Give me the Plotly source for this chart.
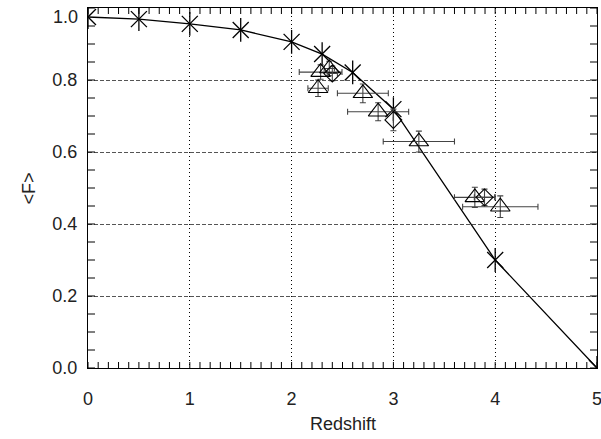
import numpy as np
import plotly.graph_objects as go

# Model curve (stars)
model_z = [0.0, 0.5, 1.0, 1.5, 2.0, 2.3, 2.6, 3.0, 4.0, 5.0]
model_f = [0.975, 0.969, 0.956, 0.939, 0.906, 0.872, 0.821, 0.719, 0.30, 0.0]

# Observations (triangles)
tri_z = [2.26, 2.285, 2.37, 2.70, 2.85, 3.25, 3.80, 4.05]
tri_f = [0.777, 0.822, 0.832, 0.763, 0.712, 0.629, 0.474, 0.448]
tri_zerr = [0.10, 0.21, 0.05, 0.25, 0.30, 0.35, 0.20, 0.37]
tri_ferr = [0.023, 0.020, 0.020, 0.026, 0.025, 0.029, 0.028, 0.030]

# Observations (diamonds)
dia_z = [2.40, 3.00, 3.895]
dia_f = [0.818, 0.689, 0.474]
dia_zerr = [0.05, 0.0, 0.10]
dia_ferr = [0.020, 0.030, 0.023]

x_ticks = [0, 1, 2, 3, 4, 5]
y_ticks = [0.0, 0.2, 0.4, 0.6, 0.8, 1.0]
y_ticklabels = ["0.0", "0.2", "0.4", "0.6", "0.8", "1.0"]
x_minor_step = 0.1
y_minor_step = 0.05

FONT = "Liberation Sans, Arial, Helvetica, sans-serif"
bar_col = "#444444"
TXT = "#222222"

x_lo, x_hi = x_ticks[0], x_ticks[-1]
y_lo, y_hi = y_ticks[0], y_ticks[-1]
x_minor = np.round(np.arange(x_lo, x_hi + 1e-9, x_minor_step), 4)
y_minor = np.round(np.arange(y_lo, y_hi + 1e-9, y_minor_step), 4)

# tick lengths expressed in axis units (~6 px on x sides, ~7 px on y sides)
xtick_len = (y_hi - y_lo) * 6 / 360
ytick_len = (x_hi - x_lo) * 7 / 509

fig = go.Figure()

inv = dict(size=1, color="rgba(0,0,0,0)")
tick_style = dict(color="black", thickness=1, width=0)
# bottom / top minor ticks, drawn as one-sided error bars pointing inward
fig.add_trace(go.Scatter(
    x=x_minor, y=[y_lo] * len(x_minor), mode="markers", marker=inv,
    error_y=dict(type="constant", value=xtick_len, valueminus=0, symmetric=False,
                 **tick_style),
    showlegend=False, hoverinfo="skip", cliponaxis=False))
fig.add_trace(go.Scatter(
    x=x_minor, y=[y_hi] * len(x_minor), mode="markers", marker=inv,
    error_y=dict(type="constant", value=0, valueminus=xtick_len, symmetric=False,
                 **tick_style),
    showlegend=False, hoverinfo="skip", cliponaxis=False))
# left / right minor ticks
fig.add_trace(go.Scatter(
    x=[x_lo] * len(y_minor), y=y_minor, mode="markers", marker=inv,
    error_x=dict(type="constant", value=ytick_len, valueminus=0, symmetric=False,
                 **tick_style),
    showlegend=False, hoverinfo="skip", cliponaxis=False))
fig.add_trace(go.Scatter(
    x=[x_hi] * len(y_minor), y=y_minor, mode="markers", marker=inv,
    error_x=dict(type="constant", value=0, valueminus=ytick_len, symmetric=False,
                 **tick_style),
    showlegend=False, hoverinfo="skip", cliponaxis=False))

fig.add_trace(go.Scatter(
    x=model_z, y=model_f, mode="lines",
    line=dict(color="black", width=1.3), showlegend=False, hoverinfo="skip"))
fig.add_trace(go.Scatter(
    x=model_z, y=model_f, mode="markers",
    marker=dict(symbol="x-thin-open", size=16, color="black",
                line=dict(color="black", width=1.3)),
    showlegend=False))
fig.add_trace(go.Scatter(
    x=model_z, y=model_f, mode="markers",
    marker=dict(symbol="line-ns-open", size=17, color="black",
                line=dict(color="black", width=1.3)),
    showlegend=False))

fig.add_trace(go.Scatter(
    x=tri_z, y=tri_f, mode="markers",
    marker=dict(symbol="triangle-up-open", size=17, color="black",
                line=dict(color="black", width=1.1)),
    error_x=dict(type="data", array=tri_zerr, color=bar_col, thickness=1.1, width=3),
    error_y=dict(type="data", array=tri_ferr, color=bar_col, thickness=1.1, width=3),
    showlegend=False))

fig.add_trace(go.Scatter(
    x=dia_z, y=dia_f, mode="markers",
    marker=dict(symbol="diamond-open", size=13, color="black",
                line=dict(color="black", width=1.1)),
    error_x=dict(type="data", array=dia_zerr, color=bar_col, thickness=1.1, width=3),
    error_y=dict(type="data", array=dia_ferr, color=bar_col, thickness=1.1, width=3),
    showlegend=False))

axis_common = dict(
    showline=True, linecolor="black", linewidth=1.2, mirror=True,
    ticks="", zeroline=False,
    tickfont=dict(family=FONT, size=18, color=TXT),
    ticklabeloverflow="allow", automargin=False, tickmode="linear",
)

fig.update_layout(
    xaxis=dict(
        range=[x_lo, x_hi], tick0=x_ticks[0], dtick=x_ticks[1] - x_ticks[0],
        showgrid=True, gridcolor="black", gridwidth=1, griddash="1px,3px",
        ticklabelstandoff=14, **axis_common),
    yaxis=dict(
        range=[y_lo, y_hi], tick0=y_ticks[0], dtick=y_ticks[1] - y_ticks[0],
        tickformat=".1f", labelalias={y_ticklabels[-1]: ""},
        showgrid=True, gridcolor="#555555", gridwidth=1, griddash="4px,2px",
        ticklabelstandoff=6, **axis_common),
)

# top label drawn slightly inside the frame, as in the original
fig.add_annotation(text=y_ticklabels[-1], xref="paper", yref="y", x=0, y=0.975,
                   xanchor="right", yanchor="middle", xshift=-8, showarrow=False,
                   font=dict(family=FONT, size=18, color=TXT))

fig.add_annotation(text="Redshift", xref="paper", yref="paper", x=0.5, y=-0.155,
                   xanchor="center", yanchor="middle", showarrow=False,
                   font=dict(family=FONT, size=18, color=TXT))
fig.add_annotation(text="&lt;F&gt;", xref="paper", yref="paper", x=-0.115, y=0.5,
                   xanchor="center", yanchor="middle", showarrow=False, textangle=-90,
                   font=dict(family=FONT, size=18, color=TXT))

fig.update_layout(
    width=601, height=439,
    margin=dict(l=88, r=4, t=8, b=71),
    plot_bgcolor="white", paper_bgcolor="white",
)

fig.write_html("out.html")
